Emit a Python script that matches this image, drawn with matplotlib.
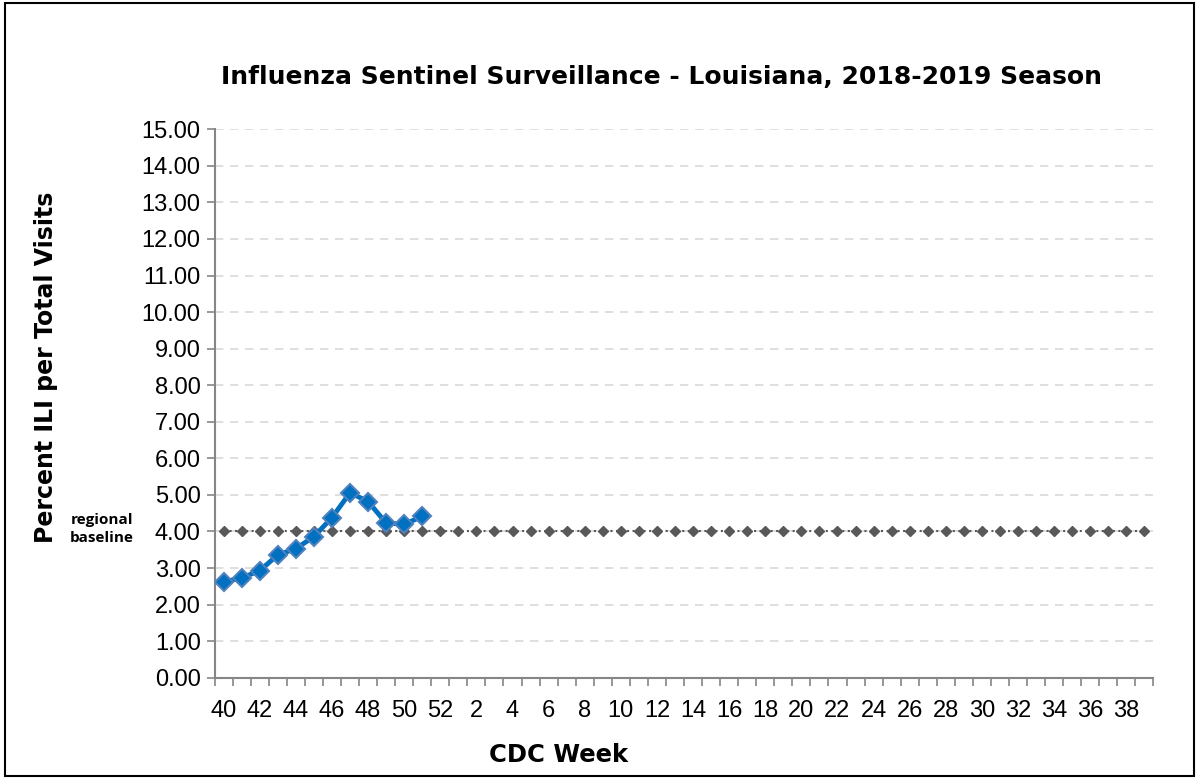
import matplotlib
matplotlib.use('Agg')
import matplotlib.pyplot as plt
from matplotlib.patches import Rectangle
from matplotlib.ticker import FixedLocator, FormatStrFormatter

# semanas CDC da temporada 2018-2019
weeks = list(range(40, 53)) + list(range(1, 40))
ili_pct = [2.62, 2.73, 2.93, 3.36, 3.53, 3.86, 4.38, 5.06, 4.82, 4.23, 4.20, 4.41]
baseline = [4.00] * len(weeks)
tick_labels = [str(w) if i % 2 == 0 else '' for i, w in enumerate(weeks)]

narrow = ['Liberation Sans Narrow', 'Liberation Sans', 'DejaVu Sans']

fig = plt.figure(figsize=(11.99, 7.79), dpi=100)
ax = fig.add_axes([0.179, 0.130, 0.783, 0.704])

x = list(range(len(weeks)))
ax.plot(x, baseline, color='#595959', linestyle=':', linewidth=1.5,
        marker='D', markersize=5.5, markerfacecolor='#595959',
        markeredgecolor='#595959', zorder=3)
ax.plot(x[:len(ili_pct)], ili_pct, color='#0070C0', linewidth=3.5,
        marker='D', markersize=9, markerfacecolor='#0070C0',
        markeredgecolor='#4F81BD', markeredgewidth=1.5, zorder=4)

ax.set_xlim(-0.5, len(weeks) - 0.5)
ax.set_ylim(0, 15)
ax.set_yticks([i for i in range(16)])
ax.yaxis.set_major_formatter(FormatStrFormatter('%.2f'))
ax.grid(axis='y', color='#D9D9D9', linestyle=(0, (5, 4)), linewidth=1.2)
ax.set_axisbelow(True)

ax.set_xticks(x)
ax.set_xticklabels(tick_labels)
ax.xaxis.set_minor_locator(FixedLocator([i - 0.5 for i in range(len(weeks) + 1)]))
ax.tick_params(axis='x', which='major', length=0, pad=16)
ax.tick_params(axis='x', which='minor', length=6, color='#868686', width=1.2)
ax.tick_params(axis='y', length=6, color='#868686', width=1.2, pad=4)
for lbl in ax.get_xticklabels() + ax.get_yticklabels():
    lbl.set_fontfamily(narrow)
    lbl.set_fontsize(17)

for s in ['top', 'right']:
    ax.spines[s].set_visible(False)
for s in ['left', 'bottom']:
    ax.spines[s].set_color('#868686')
    ax.spines[s].set_linewidth(1.5)

fig.text(0.552, 0.901, 'Influenza Sentinel Surveillance - Louisiana, 2018-2019 Season',
         ha='center', va='center', fontsize=18, fontweight='bold',
         family='DejaVu Sans')
fig.text(0.466, 0.031, 'CDC Week', ha='center', va='center', fontsize=17.5,
         fontweight='bold', family='DejaVu Sans')
fig.text(0.038, 0.528, 'Percent ILI per Total Visits', ha='center', va='center',
         rotation=90, fontsize=17, fontweight='bold', family='DejaVu Sans')
fig.text(0.085, 0.321, 'regional\nbaseline', ha='center', va='center',
         fontsize=11, fontweight='bold', family=['Open Sans', 'DejaVu Sans'],
         linespacing=1.3)

fig.patches.append(Rectangle((0.004, 0.004), 0.992, 0.992, transform=fig.transFigure,
                             fill=False, edgecolor='black', linewidth=1.5))

fig.savefig('out.png', dpi=100)
